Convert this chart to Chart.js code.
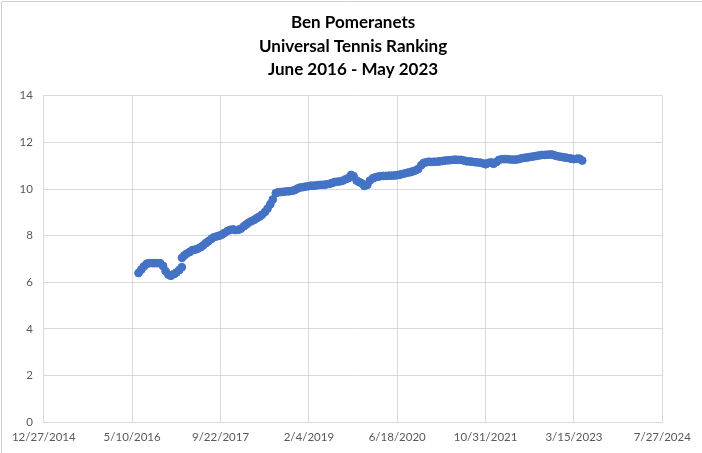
<!DOCTYPE html>
<html>
<head>
<meta charset="utf-8">
<script src="https://cdn.jsdelivr.net/npm/chart.js@4/dist/chart.umd.min.js"></script>
<style>
  html, body { margin: 0; padding: 0; background: #ffffff; }
  #wrap { width: 702px; height: 453px; position: relative; }
</style>
</head>
<body>
<div id="wrap"><canvas id="utrChart" width="702" height="453"></canvas></div>
<script>
const titleLines = ["Ben Pomeranets", "Universal Tennis Ranking", "June 2016 - May 2023"];

const xTickLabels = ["12/27/2014", "5/10/2016", "9/22/2017", "2/4/2019",
  "6/18/2020", "10/31/2021", "3/15/2023", "7/27/2024"];
const yTickLabels = [0, 2, 4, 6, 8, 10, 12, 14];

const dates = [
  "2016-06-15", "2016-07-01", "2016-07-15", "2016-08-01", "2016-08-15", "2016-09-01", "2016-09-15",
  "2016-10-01", "2016-10-15", "2016-11-01", "2016-11-15", "2016-12-01", "2016-12-15",
  "2017-01-01", "2017-01-15", "2017-02-01", "2017-02-15", "2017-02-16", "2017-03-01", "2017-03-15",
  "2017-04-01", "2017-04-15", "2017-05-01", "2017-05-15", "2017-06-01", "2017-06-15",
  "2017-07-01", "2017-07-15", "2017-08-01", "2017-08-15", "2017-09-01", "2017-09-15",
  "2017-10-01", "2017-10-15", "2017-11-01", "2017-11-15", "2017-12-01", "2017-12-15",
  "2018-01-01", "2018-01-15", "2018-02-01", "2018-02-15", "2018-03-01", "2018-03-15",
  "2018-04-01", "2018-04-15", "2018-05-01", "2018-05-15", "2018-06-01", "2018-06-15",
  "2018-07-01", "2018-07-15", "2018-08-01", "2018-08-15", "2018-09-01", "2018-09-15",
  "2018-10-01", "2018-10-15", "2018-11-01", "2018-11-15", "2018-12-01", "2018-12-15",
  "2019-01-01", "2019-01-15", "2019-02-01", "2019-02-15", "2019-03-01", "2019-03-15",
  "2019-04-01", "2019-04-15", "2019-05-01", "2019-05-15", "2019-06-01", "2019-06-15",
  "2019-07-01", "2019-07-15", "2019-08-01", "2019-08-15", "2019-09-01", "2019-09-15",
  "2019-10-01", "2019-10-15", "2019-11-01", "2019-11-15", "2019-12-01", "2019-12-15",
  "2020-01-01", "2020-01-15", "2020-02-01", "2020-02-15", "2020-03-01", "2020-03-15",
  "2020-04-01", "2020-04-15", "2020-05-01", "2020-05-15", "2020-06-01", "2020-06-15",
  "2020-07-01", "2020-07-15", "2020-08-01", "2020-08-15", "2020-09-01", "2020-09-15",
  "2020-10-01", "2020-10-15", "2020-11-01", "2020-11-15", "2020-12-01", "2020-12-15",
  "2021-01-01", "2021-01-15", "2021-02-01", "2021-02-15", "2021-03-01", "2021-03-15",
  "2021-04-01", "2021-04-15", "2021-05-01", "2021-05-15", "2021-06-01", "2021-06-15",
  "2021-07-01", "2021-07-15", "2021-08-01", "2021-08-15", "2021-09-01", "2021-09-15",
  "2021-10-01", "2021-10-15", "2021-11-01", "2021-11-15", "2021-12-01", "2021-12-15",
  "2022-01-01", "2022-01-15", "2022-02-01", "2022-02-15", "2022-03-01", "2022-03-15",
  "2022-04-01", "2022-04-15", "2022-05-01", "2022-05-15", "2022-06-01", "2022-06-15",
  "2022-07-01", "2022-07-15", "2022-08-01", "2022-08-15", "2022-09-01", "2022-09-15",
  "2022-10-01", "2022-10-15", "2022-11-01", "2022-11-15", "2022-12-01", "2022-12-15",
  "2023-01-01", "2023-01-15", "2023-02-01", "2023-02-15", "2023-03-01", "2023-03-15",
  "2023-04-01", "2023-04-15", "2023-05-01"
];

const utr = [
  6.40, 6.55, 6.68, 6.80, 6.82, 6.82, 6.82,
  6.82, 6.82, 6.70, 6.48, 6.33, 6.28,
  6.35, 6.42, 6.53, 6.65, 7.05, 7.15, 7.23,
  7.30, 7.38, 7.40, 7.44, 7.50, 7.58,
  7.68, 7.76, 7.86, 7.93, 7.97, 8.00,
  8.05, 8.12, 8.20, 8.25, 8.27, 8.24,
  8.25, 8.30, 8.40, 8.48, 8.56, 8.62,
  8.68, 8.75, 8.82, 8.90, 9.02, 9.16,
  9.35, 9.55, 9.82, 9.86, 9.87, 9.88,
  9.90, 9.90, 9.92, 9.95, 10.02, 10.06,
  10.08, 10.10, 10.12, 10.14, 10.14, 10.15,
  10.17, 10.18, 10.18, 10.20, 10.22, 10.26,
  10.30, 10.31, 10.33, 10.36, 10.42, 10.46,
  10.60, 10.55, 10.36, 10.30, 10.24, 10.13,
  10.18, 10.36, 10.46, 10.50, 10.53, 10.55,
  10.56, 10.56, 10.57, 10.57, 10.58, 10.59,
  10.61, 10.64, 10.67, 10.70, 10.72, 10.76,
  10.80, 10.86, 11.02, 11.12, 11.15, 11.17,
  11.16, 11.17, 11.17, 11.19, 11.20, 11.22,
  11.23, 11.24, 11.25, 11.26, 11.25, 11.25,
  11.22, 11.19, 11.18, 11.17, 11.15, 11.14,
  11.13, 11.10, 11.06, 11.12, 11.14, 11.08,
  11.16, 11.25, 11.28, 11.28, 11.28, 11.27,
  11.26, 11.26, 11.27, 11.30, 11.33, 11.34,
  11.36, 11.38, 11.40, 11.42, 11.44, 11.46,
  11.46, 11.47, 11.48, 11.47, 11.43, 11.40,
  11.38, 11.36, 11.34, 11.32, 11.30, 11.28,
  11.30, 11.30, 11.22
];

// days since epoch, so the x axis is a plain linear scale (no date adapter needed)
function isoToDay(s) {
  const p = s.split("-").map(Number);
  return Math.round(Date.UTC(p[0], p[1] - 1, p[2]) / 86400000);
}
function mdyToDay(s) {
  const p = s.split("/").map(Number);
  return Math.round(Date.UTC(p[2], p[0] - 1, p[1]) / 86400000);
}
function dayToMdy(v) {
  const d = new Date(v * 86400000);
  return `${d.getUTCMonth() + 1}/${d.getUTCDate()}/${d.getUTCFullYear()}`;
}

const points = dates.map((d, i) => {
  return { x: isoToDay(d), y: utr[i] };
});

const gridColor = "#d9d9d9";
const tickColor = "#595959";

const frame = {
  id: "frame",
  afterDraw(chart) {
    const ctx = chart.ctx;
    ctx.save();
    ctx.strokeStyle = "#d0d0d0";
    ctx.lineWidth = 1;
    ctx.beginPath();
    ctx.moveTo(1.5, 453);
    ctx.lineTo(1.5, 1.5);
    ctx.lineTo(702, 1.5);
    ctx.stroke();
    ctx.restore();
  },
};

function createChart(id) {
  const ctx = document.getElementById(id).getContext("2d");
  return new Chart(ctx, {
    type: "scatter",
    data: {
      datasets: [
        {
          data: points,
          backgroundColor: "#4472c4",
          borderColor: "#4472c4",
          pointRadius: 3.9,
          pointBorderWidth: 1,
          pointHoverRadius: 3.9,
          showLine: false,
        },
      ],
    },
    options: {
      responsive: false,
      animation: false,
      devicePixelRatio: 1,
      layout: { padding: { left: 0, right: 39.7, top: 0, bottom: 0 } },
      plugins: {
        legend: { display: false },
        tooltip: { enabled: false },
        title: {
          display: true,
          fullSize: false,
          text: titleLines,
          color: "#000000",
          font: { family: "Lato", size: 17, weight: "bold", lineHeight: 1.38 },
          padding: { top: 11, bottom: 14.3 },
        },
      },
      scales: {
        x: {
          type: "linear",
          min: mdyToDay(xTickLabels[0]),
          max: mdyToDay(xTickLabels[xTickLabels.length - 1]),
          afterBuildTicks: (scale) => {
            scale.ticks = xTickLabels.map((l) => ({ value: mdyToDay(l) }));
          },
          afterFit: (scale) => {
            scale.height = 30.7;
          },
          grid: { color: gridColor, drawTicks: false, lineWidth: 1 },
          border: { color: gridColor },
          ticks: {
            color: tickColor,
            font: { family: "Lato", size: 11.5 },
            padding: 8,
            maxRotation: 0,
            autoSkip: false,
            callback: (v) => dayToMdy(v),
          },
        },
        y: {
          min: yTickLabels[0],
          max: yTickLabels[yTickLabels.length - 1],
          afterBuildTicks: (scale) => {
            scale.ticks = yTickLabels.map((v) => ({ value: v }));
          },
          afterFit: (scale) => {
            scale.width = 43.8;
          },
          grid: { color: gridColor, drawTicks: false, lineWidth: 1 },
          border: { color: gridColor },
          ticks: {
            color: tickColor,
            font: { family: "Lato", size: 11.5 },
            padding: 11,
          },
        },
      },
    },
    plugins: [frame],
  });
}

createChart("utrChart");
</script>
</body>
</html>
